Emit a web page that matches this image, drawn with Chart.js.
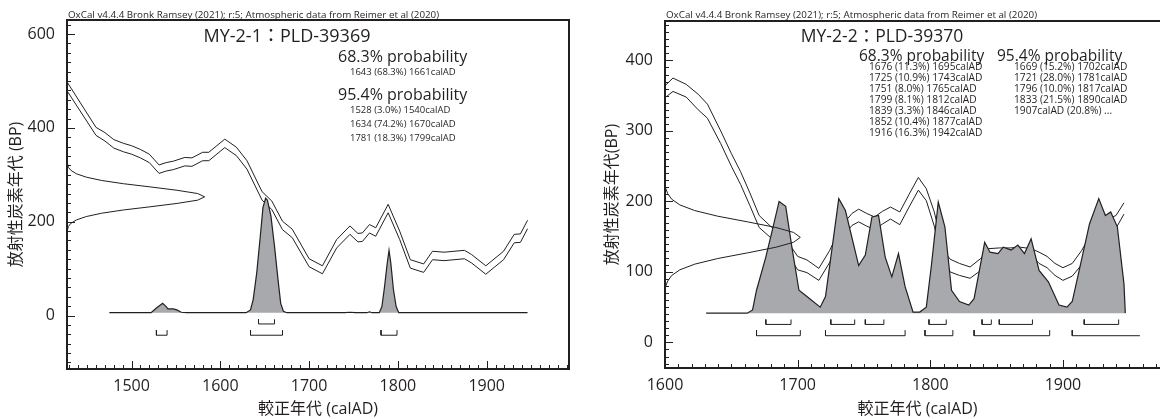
<!DOCTYPE html>
<html>
<head>
<meta charset="utf-8">
<script src="https://cdn.jsdelivr.net/npm/chart.js"></script>
<style>
  html, body { margin: 0; padding: 0; background: #fff; overflow: hidden; }
  #wrap { position: relative; width: 1160px; height: 419px; overflow: hidden; }
  #left { position: absolute; left: 0; top: 0; }
  #right { position: absolute; left: 580px; top: 0; }
</style>
</head>
<body>
<div id="wrap">
  <canvas id="left" width="580" height="419"></canvas>
  <canvas id="right" width="600" height="419"></canvas>
</div>
<script>
// ---- MY-2-1 : PLD-39369 ----
const leftCurveYears = [1427,1460,1470,1480,1491,1500,1510,1520,1531,1539,1547,1560,1568,1580,1587,1605,1618,1630,1647,1658,1670,1681,1700,1715,1731,1746,1755,1760,1768,1775,1789,1802,1814,1829,1839,1852,1875,1883,1899,1919,1931,1938,1946];
const leftCurveUpper = [499,401,390,375,367,362,354,344,321,326,329,337,336,348,348,376,359,330,264,244,201,184,121,106,162,191,175,176,194,187,237,180,119,110,137,135,139,130,106,137,173,174,203];
const leftCurveLower = [480,384,372,357,349,344,336,326,303,308,311,319,318,330,330,358,341,312,246,226,183,166,104,89,144,173,157,158,176,169,219,162,101,92,119,117,121,112,88,119,155,156,185];
const leftProbYears = [1475,1522,1528,1535,1539,1541,1547,1551,1556,1562,1629,1634,1637,1641,1645,1648,1651,1653,1657,1661,1665,1668,1671,1675,1740,1746,1752,1765,1768,1771,1779,1782,1785,1788,1790,1792,1795,1798,1801,1946];
const leftProbValues = [6,6,16,26,19,14,14,12,7,6,6,12,34,91,169,230,250,246,212,148,76,26,9,6,6,7,6,6,8,6,6,19,62,112,139,112,55,19,6,6];
const leftDateBP = [328,316,309,302,295,288,281,274,267,260,253,246,239,232,225,218,211,204,197,190,178];
const leftDateDensity = [0,0.01,0.03,0.07,0.14,0.25,0.41,0.61,0.80,0.95,1,0.95,0.80,0.61,0.41,0.25,0.14,0.07,0.03,0.01,0];
const left68 = [[1643,1661]];
const left68Pct = [68.3];
const left95 = [[1528,1540],[1634,1670],[1781,1799]];
const left95Pct = [3.0,74.2,18.3];
const leftYearTicks = [1500,1600,1700,1800,1900];
const leftBpTicks = [0,200,400,600];

// ---- MY-2-2 : PLD-39370 ----
const rightCurveYears = [1600,1606,1616,1625,1632,1642,1650,1657,1664,1671,1680,1690,1700,1707,1716,1724,1733,1741,1746,1752,1758,1764,1770,1777,1784,1791,1797,1803,1810,1815,1822,1830,1838,1844,1852,1860,1868,1876,1882,1888,1894,1900,1907,1914,1920,1927,1935,1940,1946];
const rightCurveUpper = [364,375,366,352,338,300,268,242,212,180,164,150,122,117,105,130,165,183,189,183,178,186,192,185,210,234,218,185,130,118,112,107,119,133,134,134,135,133,128,122,112,106,112,130,150,170,176,180,198];
const rightCurveLower = [347,356,348,330,318,282,250,224,194,163,148,134,103,99,88,113,148,166,171,165,160,168,175,167,192,216,201,165,110,100,95,91,102,125,126,126,127,124,112,106,95,88,94,110,130,155,160,162,182];
const rightProbYears = [1631,1662,1666,1669,1676,1681,1686,1691,1696,1701,1707,1717,1721,1731,1736,1746,1751,1756,1761,1766,1771,1776,1781,1787,1792,1797,1801,1806,1811,1816,1822,1829,1833,1841,1845,1851,1855,1861,1866,1871,1876,1882,1889,1897,1903,1907,1914,1920,1927,1932,1936,1941,1946,1947];
const rightProbValues = [41.5,41.5,46,74,121,160,200,193,131,74,65,50,65,204,187,109,124,178,180,121,93,126,79,43,43,50,112,199,164,74,58,53,62,142,128,126,135,131,138,126,147,102,86,53,50,58,117,168,204,180,185,164,83,41.5];
const rightDateBP = [221,211,203,195,187,179,171,163,156,149,142,135,127,119,111,103,95,87,77];
const rightDateDensity = [0,0.02,0.05,0.11,0.22,0.39,0.61,0.82,0.95,1,0.95,0.82,0.61,0.39,0.22,0.11,0.05,0.02,0];
const right68 = [[1676,1695],[1725,1743],[1751,1765],[1799,1812],[1839,1846],[1852,1877],[1916,1942]];
const right68Pct = [11.3,10.9,8.0,8.1,3.3,10.4,16.3];
const right95 = [[1669,1702],[1721,1781],[1796,1817],[1833,1890],[1907,null]];
const right95Pct = [15.2,28.0,10.0,21.5,20.8];
const rightYearTicks = [1600,1700,1800,1900];
const rightBpTicks = [0,100,200,300,400];

const INK = '#231f20';
const GREY = '#a7a9ac';
const FONT = "'Open Sans', 'Noto Sans CJK JP', sans-serif";
const HEADER = 'OxCal v4.4.4 Bronk Ramsey (2021); r:5; Atmospheric data from Reimer et al (2020)';

function rangeLines(ranges, pcts) {
  return ranges.map((r, i) => r[1] == null
    ? r[0] + 'calAD (' + pcts[i].toFixed(1) + '%) ...'
    : r[0] + ' (' + pcts[i].toFixed(1) + '%) ' + r[1] + 'calAD');
}

// little "|_|" brackets under the distribution, open end runs on to openEnd
function brackets(ranges, top, bottom, openEnd) {
  const pts = [];
  ranges.forEach(([a, b]) => {
    pts.push({x: a, y: top}, {x: a, y: bottom});
    if (b == null) {
      pts.push({x: openEnd, y: bottom});
    } else {
      pts.push({x: b, y: bottom}, {x: b, y: top});
    }
    pts.push({x: b == null ? openEnd : b, y: null});
  });
  return pts;
}

function oxcalFrame(s) {
  return {
    id: 'oxcalFrame',
    afterDraw(chart) {
      const ctx = chart.ctx, a = chart.chartArea;
      const x = chart.scales.x, y = chart.scales.y;
      ctx.save();
      ctx.strokeStyle = INK;
      ctx.lineWidth = 2;
      ctx.beginPath();
      ctx.moveTo(a.left, a.top);
      ctx.lineTo(a.right, a.top);
      ctx.lineTo(a.right, a.bottom);
      ctx.lineTo(a.left, a.bottom);
      ctx.closePath();
      ctx.stroke();

      // ticks point inwards
      ctx.lineWidth = 1;
      ctx.beginPath();
      for (let v = Math.ceil(x.min / s.xMinor) * s.xMinor; v <= x.max; v += s.xMinor) {
        const px = Math.round(x.getPixelForValue(v)) + 0.5;
        const len = v % s.xMajor === 0 ? 8 : 4;
        ctx.moveTo(px, a.bottom);
        ctx.lineTo(px, a.bottom - len);
      }
      for (let v = Math.ceil(y.min / s.yMinor) * s.yMinor; v <= y.max; v += s.yMinor) {
        const py = Math.round(y.getPixelForValue(v)) + 0.5;
        const len = v % s.yMajor === 0 ? 8 : 4;
        ctx.moveTo(a.left, py);
        ctx.lineTo(a.left + len, py);
      }
      ctx.stroke();

      ctx.fillStyle = INK;
      s.texts.forEach(t => {
        ctx.font = t.size + 'px ' + FONT;
        ctx.textAlign = t.align || 'left';
        ctx.textBaseline = t.base || 'middle';
        ctx.fillText(t.text, t.x, t.y);
      });
      ctx.restore();
    }
  };
}

function drawOxcal(id, s) {
  const pts = (xs, ys) => xs.map((v, i) => ({x: v, y: ys[i]}));
  const gauss = s.dateBP.map((b, i) => ({x: s.xMin + s.dateDensity[i] * s.dateSpan, y: b}));
  const line = (data, extra) => Object.assign({
    data: data, borderColor: INK, borderWidth: 1, pointRadius: 0, fill: false, tension: 0
  }, extra || {});

  new Chart(document.getElementById(id), {
    type: 'line',
    data: {
      datasets: [
        line(gauss),
        line(brackets(s.r68, s.row68[0], s.row68[1], s.openEnd)),
        line(brackets(s.r95, s.row95[0], s.row95[1], s.openEnd)),
        line(pts(s.probYears, s.probValues), {fill: {value: s.base}, backgroundColor: GREY, borderWidth: 1.2}),
        line(pts(s.curveYears, s.upper)),
        line(pts(s.curveYears, s.lower))
      ]
    },
    options: {
      responsive: false,
      animation: false,
      events: [],
      layout: {padding: s.padding},
      plugins: {legend: {display: false}, tooltip: {enabled: false}},
      scales: {
        x: {
          type: 'linear', min: s.xMin, max: s.xMax,
          grid: {display: false}, border: {display: false},
          ticks: {font: {family: FONT, size: 16}, color: INK, padding: 0, maxRotation: 0,
                  callback: v => String(v)},
          afterBuildTicks: sc => { sc.ticks = s.xTicks.map(v => ({value: v})); },
          afterFit: sc => { sc.height = s.xAxisHeight; },
          title: {display: true, text: '較正年代 (calAD)', color: INK,
                  font: {family: FONT, size: 16}, padding: {top: 0, bottom: 0}}
        },
        y: {
          type: 'linear', min: s.yMin, max: s.yMax,
          grid: {display: false}, border: {display: false},
          ticks: {font: {family: FONT, size: 16}, color: INK, padding: 4,
                  callback: v => String(v)},
          afterBuildTicks: sc => { sc.ticks = s.yTicks.map(v => ({value: v})); },
          afterFit: sc => { sc.width = s.yAxisWidth; },
          title: {display: true, text: s.yTitle, color: INK,
                  font: {family: FONT, size: 16}, padding: {top: s.yTitlePad, bottom: 0}}
        }
      }
    },
    plugins: [oxcalFrame(s)]
  });
}

// left panel
const l68 = rangeLines(left68, left68Pct);
const l95 = rangeLines(left95, left95Pct);
drawOxcal('left', {
  xMin: 1427.3, xMax: 1992.7, yMin: -114, yMax: 630,
  xTicks: leftYearTicks, yTicks: leftBpTicks,
  xMinor: 10, xMajor: 100, yMinor: 20, yMajor: 200,
  padding: {left: 0, top: 20, right: 11, bottom: 0},
  yAxisWidth: 67, xAxisHeight: 50, yTitlePad: 7,
  yTitle: '放射性炭素年代 (BP)',
  curveYears: leftCurveYears, upper: leftCurveUpper, lower: leftCurveLower,
  probYears: leftProbYears, probValues: leftProbValues, base: 6,
  dateBP: leftDateBP, dateDensity: leftDateDensity, dateSpan: 155,
  r68: left68, r95: left95, row68: [-8, -18], row95: [-31, -42], openEnd: 1958,
  texts: [
    {text: HEADER, x: 68, y: 18, size: 9.8, base: 'alphabetic'},
    {text: 'MY-2-1：PLD-39369', x: 287, y: 37, size: 18, align: 'center'},
    {text: '68.3% probability', x: 338, y: 57, size: 16},
    {text: l68[0], x: 350, y: 72, size: 9.5},
    {text: '95.4% probability', x: 338, y: 95.5, size: 16},
    {text: l95[0], x: 350, y: 110, size: 9.5},
    {text: l95[1], x: 350, y: 124, size: 9.5},
    {text: l95[2], x: 350, y: 138, size: 9.5}
  ]
});

// right panel (runs off the right edge of the page)
const r68 = rangeLines(right68, right68Pct);
const r95 = rangeLines(right95, right95Pct);
const rightTexts = [
  {text: HEADER, x: 86, y: 18, size: 9.8, base: 'alphabetic'},
  {text: 'MY-2-2：PLD-39370', x: 302, y: 37.5, size: 17.5, align: 'center'},
  {text: '68.3% probability', x: 279, y: 57, size: 15.5},
  {text: '95.4% probability', x: 417, y: 57, size: 15.5}
];
r68.forEach((t, i) => rightTexts.push({text: t, x: 289, y: 67 + i * 11.1, size: 10.2}));
r95.forEach((t, i) => rightTexts.push({text: t, x: 434, y: 67 + i * 11.1, size: 10.2}));

drawOxcal('right', {
  xMin: 1600, xMax: 1980.7, yMin: -36.3, yMax: 455.9,
  xTicks: rightYearTicks, yTicks: rightBpTicks,
  xMinor: 10, xMajor: 100, yMinor: 10, yMajor: 100,
  padding: {left: 0, top: 21, right: 10, bottom: 0},
  yAxisWidth: 85, xAxisHeight: 51, yTitlePad: 23,
  yTitle: '放射性炭素年代(BP)',
  curveYears: rightCurveYears, upper: rightCurveUpper, lower: rightCurveLower,
  probYears: rightProbYears, probValues: rightProbValues, base: 41.5,
  dateBP: rightDateBP, dateDensity: rightDateDensity, dateSpan: 102,
  r68: right68, r95: right95, row68: [32.5, 25.5], row95: [17.5, 9.5], openEnd: 1958,
  texts: rightTexts
});
</script>
</body>
</html>
